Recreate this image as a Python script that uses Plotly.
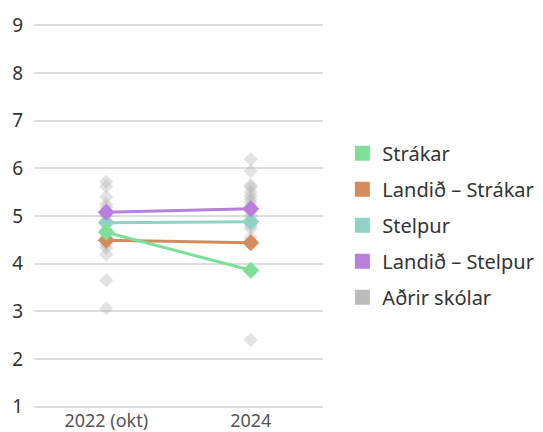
import plotly.graph_objects as go

categories = ["2022 (okt)", "2024"]
strakar = [4.66, 3.86]
landid_strakar = [4.49, 4.44]
stelpur = [4.86, 4.88]
landid_stelpur = [5.08, 5.15]
adrir_2022 = [5.72, 5.62, 5.40, 5.25, 5.18, 5.00, 4.90, 4.70, 4.55, 4.40, 4.33, 4.19, 3.65, 3.06]
adrir_2024 = [6.19, 5.94, 5.65, 5.60, 5.50, 5.42, 5.35, 5.28, 5.20, 5.10, 5.00, 4.92, 4.80, 4.74, 4.55, 2.40]
y_ticks = [1, 2, 3, 4, 5, 6, 7, 8, 9]

series = [
    ("Strákar", strakar, "#7ddf98"),
    ("Landið – Strákar", landid_strakar, "#d48c5f"),
    ("Stelpur", stelpur, "#8fd3c4"),
    ("Landið – Stelpur", landid_stelpur, "#b87fdc"),
]
gray_legend = "#bbbbbb"
FONT = "'Noto Sans', 'Open Sans', sans-serif"

fig = go.Figure()

fig.add_trace(go.Scatter(
    x=[categories[0]] * len(adrir_2022) + [categories[1]] * len(adrir_2024),
    y=adrir_2022 + adrir_2024,
    mode="markers",
    marker=dict(symbol="diamond", size=11, color="rgba(175,175,175,0.35)"),
    showlegend=False, hoverinfo="skip",
))

order = [1, 2, 3, 0]
for i in order:
    name, vals, col = series[i]
    fig.add_trace(go.Scatter(
        x=categories, y=vals, mode="lines+markers",
        line=dict(color=col, width=3),
        marker=dict(symbol="diamond", size=13, color=col),
        showlegend=False,
    ))

for i, (name, vals, col) in enumerate(series + [("Aðrir skólar", None, gray_legend)]):
    fig.add_trace(go.Scatter(
        x=[None], y=[None], mode="markers", name=name,
        marker=dict(symbol="square", size=15, color=col),
        legendgroup=f"g{i}", showlegend=True,
    ))

fig.update_layout(
    width=543, height=432,
    margin=dict(l=34, r=220, t=24, b=24, autoexpand=False),
    paper_bgcolor="white", plot_bgcolor="white",
    font=dict(family=FONT, size=19, color="#333333"),
    xaxis=dict(
        type="category", range=[-0.5, 1.5], showgrid=False, zeroline=False,
        showline=False, ticks="", tickfont=dict(color="#555555", size=18),
        automargin=False,
    ),
    yaxis=dict(
        range=[0.97, 9.03], tickvals=y_ticks, showgrid=True, gridcolor="#dddddd",
        gridwidth=2, zeroline=False, showline=False, ticks="",
        ticklabelstandoff=10, automargin=False,
        tickfont=dict(color="#333333", size=19),
    ),
    legend=dict(
        x=1.067, xanchor="left", y=0.476, yanchor="middle",
        tracegroupgap=7, itemsizing="trace",
        font=dict(size=20, color="#333333"),
        bgcolor="rgba(0,0,0,0)",
    ),
)

fig.write_html("out.html", config={"displayModeBar": False},
               post_script="document.body.style.margin='0';")
